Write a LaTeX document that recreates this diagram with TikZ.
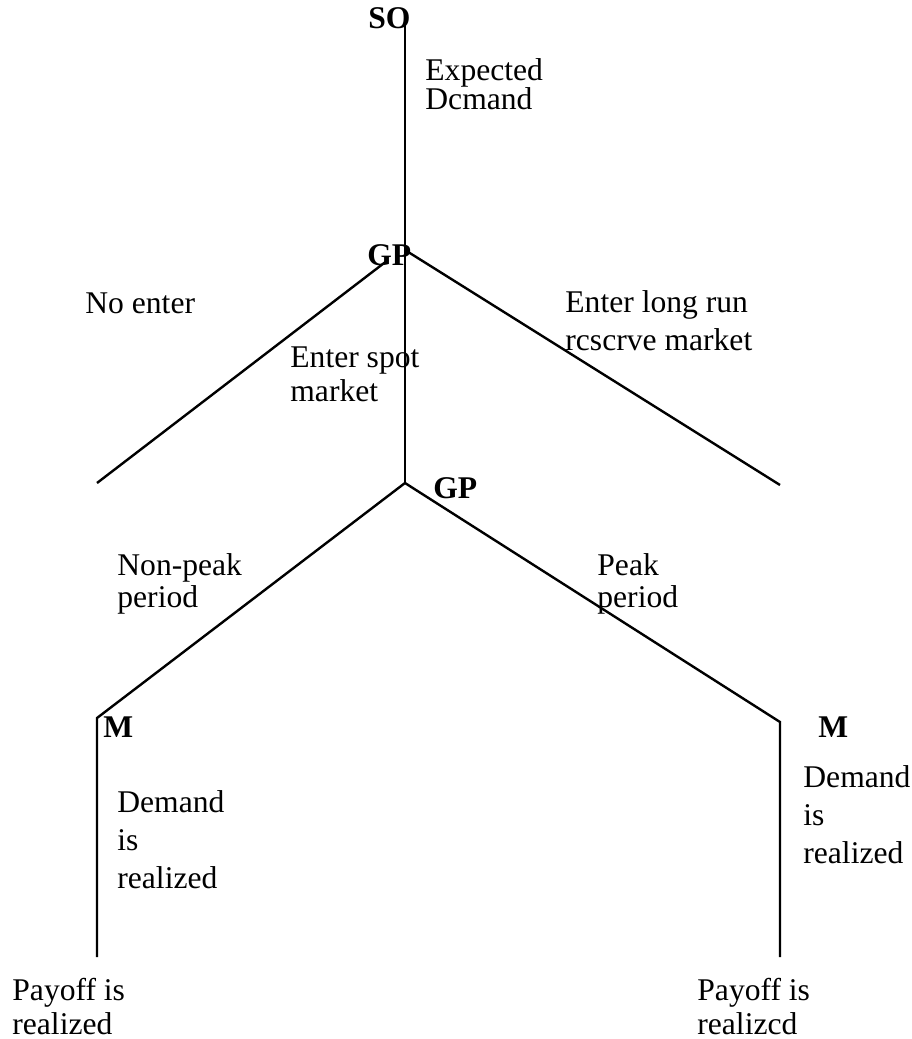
\documentclass[tikz,border=0pt]{standalone}
\usepackage{fontspec}
\setmainfont{Liberation Serif}
\usetikzlibrary{positioning}
\tikzset{x=0.5pt, y=-0.5pt,
    branch/.style={
        draw,
        line width=1.2pt},
    player/.style={
        anchor=base west,
        inner sep=0pt,
        font=\fontsize{15.8}{19}\selectfont\bfseries},
    move/.style={
        anchor=base west,
        inner sep=0pt,
        align=left,
        font=\fontsize{15.8}{19}\selectfont}}

\begin{document}
\begin{tikzpicture}
        \useasboundingbox (0,0) rectangle (911,1039);

        \coordinate (so) at (405,25);
        \coordinate (gp1) at (405,250);
        \coordinate (gp1l) at (388,260);
        \coordinate (noenter) at (97,483);
        \coordinate (reserve) at (780,485);
        \coordinate (gp2) at (405,483);
        \coordinate (m1) at (97,718);
        \coordinate (m2) at (780,722);
        \coordinate (pay1) at (97,957);
        \coordinate (pay2) at (780,957);

        \draw[branch] (so) -- (gp1) -- (gp2);
        \draw[branch] (gp1l) -- (noenter);
        \draw[branch] (gp1) -- (reserve);
        \draw[branch] (gp2) -- (m1) -- (pay1);
        \draw[branch] (gp2) -- (m2) -- (pay2);

        \node[player] (lso) at (368,28) {SO};
        \node[player] (lgp1) at (367,265) {GP};
        \node[player] (lgp2) at (433,498) {GP};
        \node[player] (lm1) at (103,737) {M};
        \node[player] (lm2) at (818,737) {M};

        % base anchor sits on the last line
        \node[move, font=\fontsize{15.8}{14.5}\selectfont] (lexp) at (425,109) {Expected\\Dcmand};
        \node[move] (lno) at (85,313) {No enter};
        \node[move, font=\fontsize{15.8}{17}\selectfont] (lspot) at (290,401) {Enter spot\\market};
        \node[move] (lres) at (565,350) {Enter long run\\rcscrve market};
        \node[move, font=\fontsize{15.8}{16}\selectfont] (lnon) at (117,607) {Non-peak\\period};
        \node[move, font=\fontsize{15.8}{16}\selectfont] (lpeak) at (597,607) {Peak\\period};
        \node[move] (ldem1) at (117,888) {Demand\\is\\realized};
        \node[move] (ldem2) at (803,863) {Demand\\is\\realized};
        \node[move, font=\fontsize{15.8}{17}\selectfont] (lpay1) at (12,1034) {Payoff is\\realized};
        \node[move, font=\fontsize{15.8}{17}\selectfont] (lpay2) at (697,1034) {Payoff is\\realizcd};
    \end{tikzpicture}
\end{document}
